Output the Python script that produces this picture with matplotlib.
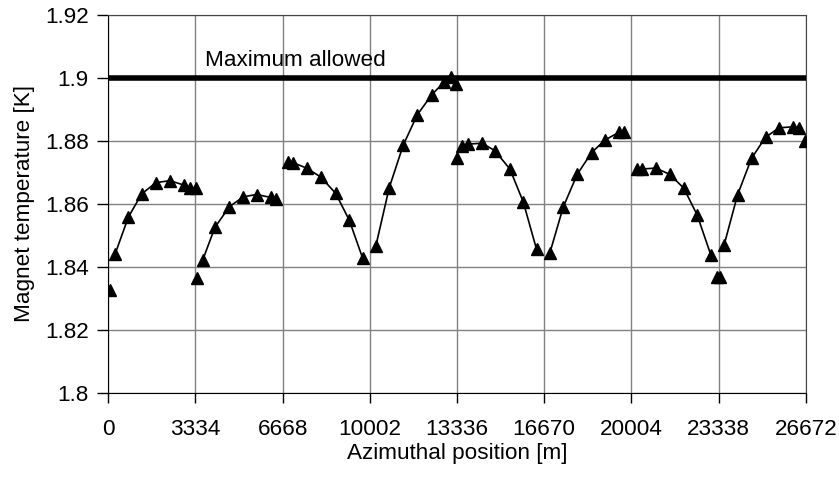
import matplotlib.pyplot as plt

plt.rcParams['font.family'] = ['Liberation Sans', 'DejaVu Sans']

# position along the ring [m] and magnet temperature [K], one list per sector
seg_x = [
    [260, 765, 1276, 1823, 2359, 2894, 3123, 3341],
    [3609, 4079, 4626, 5161, 5673, 6208, 6400],
    [6882, 7073, 7608, 8131, 8693, 9213, 9726],
    [10234, 10743, 11279, 11814, 12363, 12846, 13101],
    [13510, 13740, 14298, 14784, 15357, 15866, 16377],
    [16886, 17395, 17930, 18480, 18989, 19536, 19715],
    [20201, 20391, 20938, 21473, 22008, 22518, 23042],
    [23549, 24062, 24597, 25133, 25654, 26189, 26418],
]
seg_t = [
    [1.8441, 1.8558, 1.8632, 1.8668, 1.8674, 1.8660, 1.8652, 1.8650],
    [1.8422, 1.8526, 1.8591, 1.8623, 1.8630, 1.8621, 1.8617],
    [1.8734, 1.8731, 1.8713, 1.8685, 1.8634, 1.8549, 1.8428],
    [1.8468, 1.8652, 1.8787, 1.8883, 1.8946, 1.8988, 1.9004],
    [1.8784, 1.8790, 1.8793, 1.8769, 1.8711, 1.8607, 1.8456],
    [1.8445, 1.8590, 1.8694, 1.8763, 1.8803, 1.8828, 1.8830],
    [1.8710, 1.8711, 1.8714, 1.8694, 1.8650, 1.8565, 1.8438],
    [1.8470, 1.8629, 1.8745, 1.8812, 1.8842, 1.8845, 1.8840],
]
# points at the cryo plants, not joined by a line
iso_x = [65, 3403, 13281, 13343, 23258, 23385, 26635]
iso_t = [1.8327, 1.8364, 1.8981, 1.8745, 1.8369, 1.8369, 1.8800]

t_max = 1.9
x_ticks = [0, 3334, 6668, 10002, 13336, 16670, 20004, 23338, 26672]
y_ticks = [1.8, 1.82, 1.84, 1.86, 1.88, 1.9, 1.92]

fs = 16.2
fig = plt.figure(figsize=(8.39, 4.8), dpi=100)
ax = fig.add_axes([108.3 / 839, 1 - 393 / 480, (805.8 - 108.3) / 839, (393 - 15) / 480])

ax.plot([x_ticks[0], x_ticks[-1]], [t_max, t_max], color='black', lw=4, solid_capstyle='round', zorder=3)
ax.text(3700, 1.9038, 'Maximum allowed', fontsize=fs, va='baseline', ha='left')

for xs, ts in zip(seg_x, seg_t):
    ax.plot(xs, ts, color='black', lw=1.2, marker='^', markersize=8, zorder=4)
ax.plot(iso_x, iso_t, ls='none', color='black', marker='^', markersize=8, zorder=4)

ax.set_xlim(x_ticks[0], x_ticks[-1])
ax.set_ylim(y_ticks[0], y_ticks[-1])
ax.set_xticks(x_ticks)
ax.set_xticklabels([str(v) for v in x_ticks])
ax.set_yticks(y_ticks)
ax.set_yticklabels(['1.8', '1.82', '1.84', '1.86', '1.88', '1.9', '1.92'])
ax.grid(True, color='#808080', lw=1.0)
ax.set_axisbelow(True)
ax.tick_params(axis='y', direction='out', length=8, width=1, labelsize=fs, pad=6)
ax.tick_params(axis='x', direction='out', length=7, width=1, labelsize=fs, pad=12)
for s in ['top', 'right']:
    ax.spines[s].set_color('#444444')
for s in ['left', 'bottom']:
    ax.spines[s].set_color('black')
ax.set_xlabel('Azimuthal position [m]', fontsize=fs, labelpad=2)
ax.set_ylabel('Magnet temperature [K]', fontsize=fs, labelpad=7)

fig.savefig('out.png', dpi=100)
